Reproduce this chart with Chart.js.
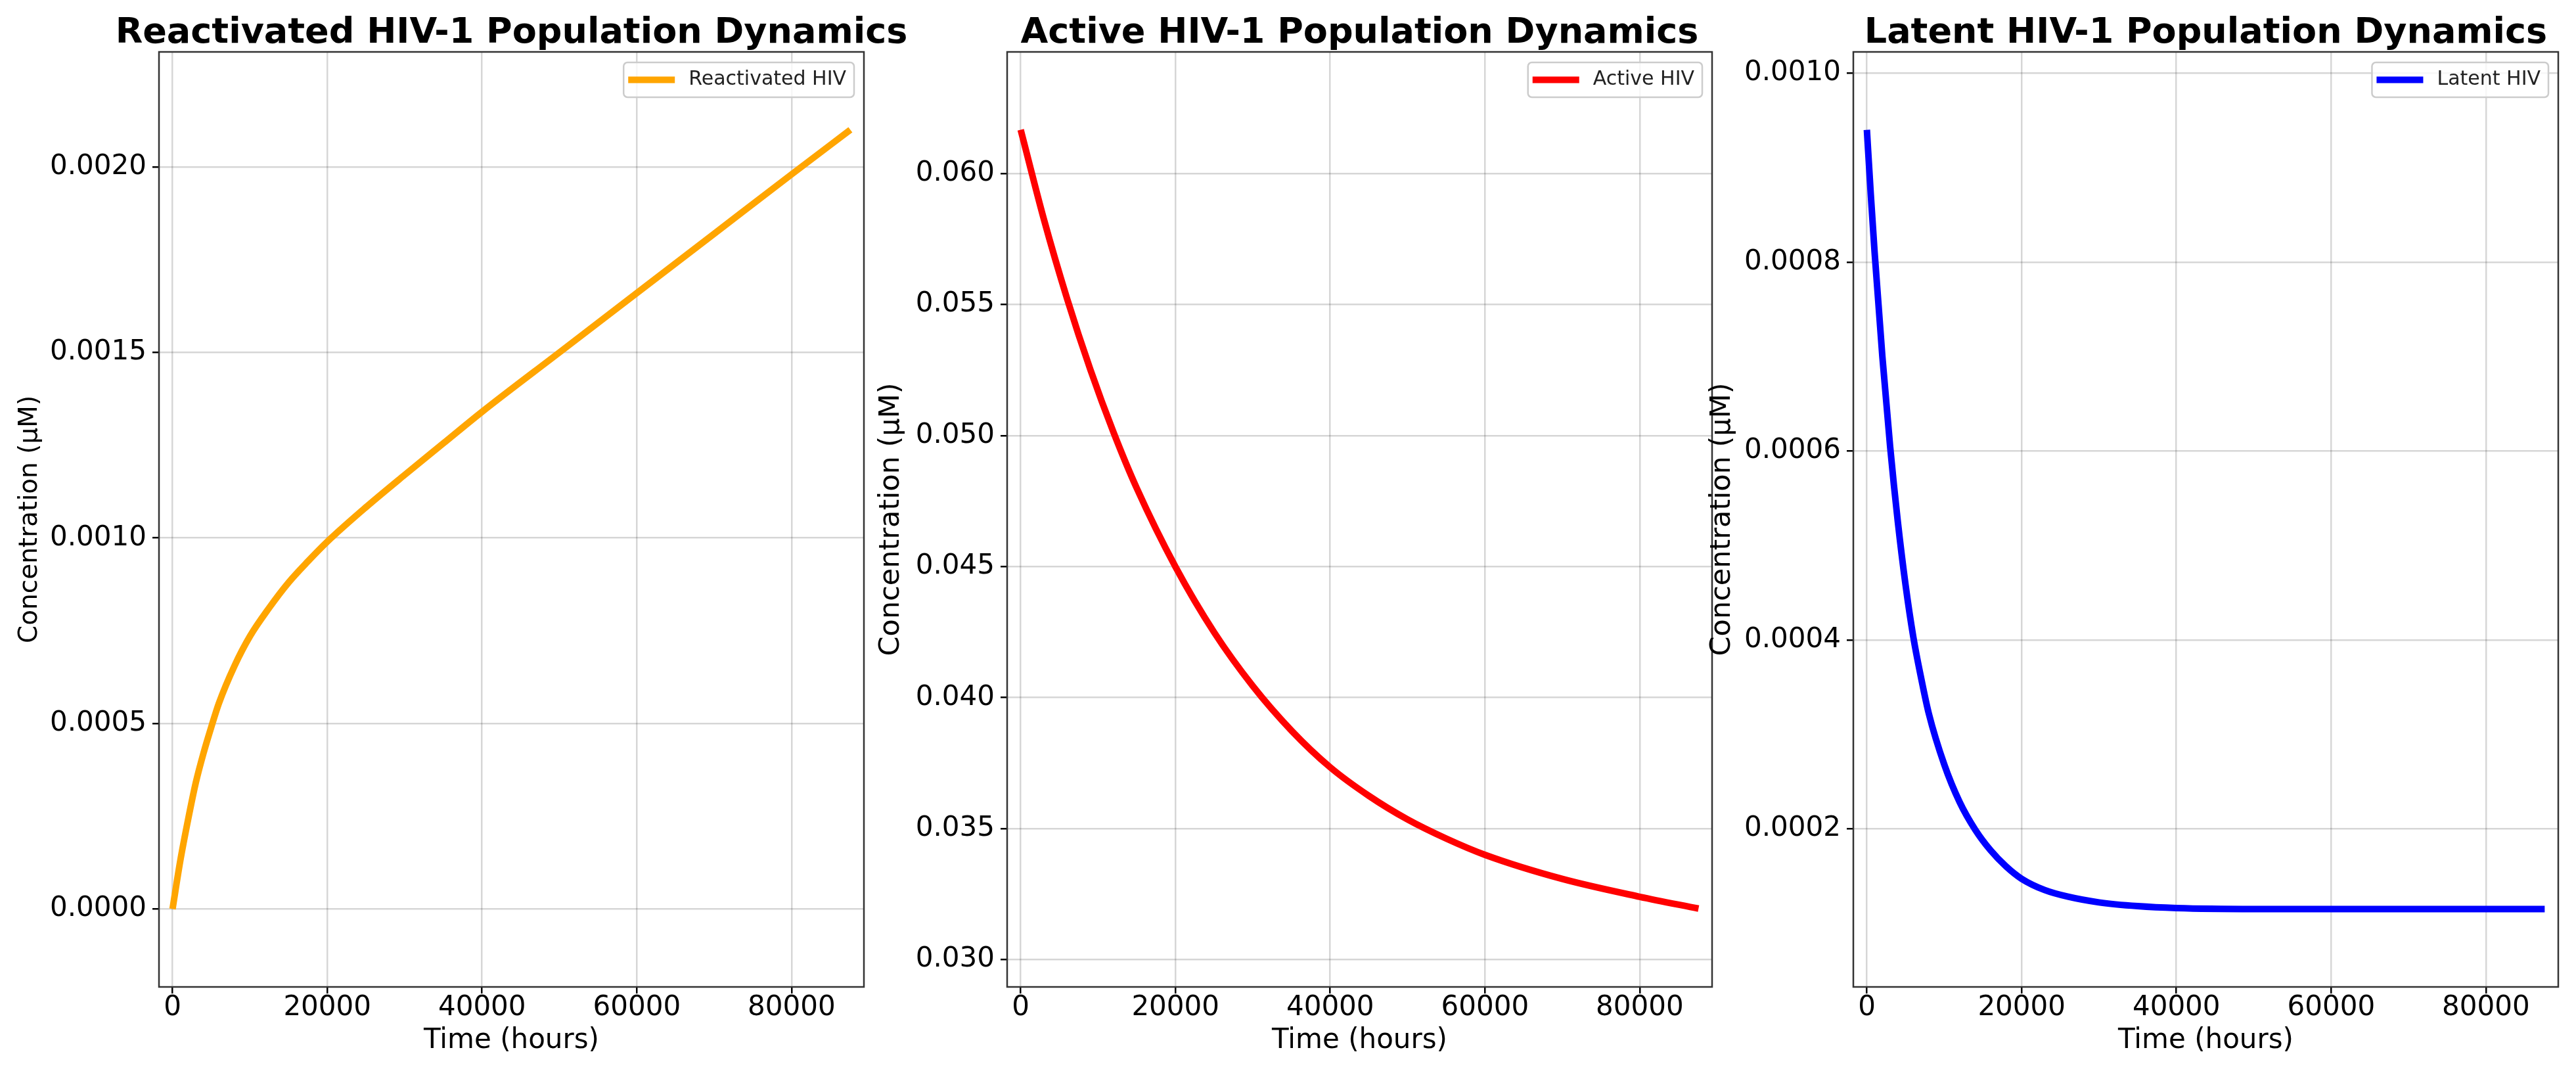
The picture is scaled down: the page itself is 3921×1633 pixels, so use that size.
<!DOCTYPE html>
<html>
<head>
<meta charset="utf-8">
<title>HIV-1 Population Dynamics</title>
<script src="https://cdn.jsdelivr.net/npm/chart.js@4.4.1/dist/chart.umd.min.js"></script>
<style>
  html, body { margin: 0; padding: 0; background: #fff; }
  #wrap { position: relative; width: 3921px; height: 1633px; }
  #wrap canvas { position: absolute; left: 0; top: 0; }
</style>
</head>
<body>
<div id="wrap">
  <canvas id="reactivado" width="3921" height="1633"></canvas>
  <canvas id="activo" width="3921" height="1633"></canvas>
  <canvas id="latente" width="3921" height="1633"></canvas>
</div>
<script>
// valores (horas, uM)
const timeTicks = [0, 20000, 40000, 60000, 80000];

const reactTime = [0, 1000, 2000, 3000, 4000, 5000, 6000, 8000, 10000, 12500, 15000, 17500, 20000,
  25000, 30000, 35000, 40000, 50000, 60000, 70000, 80000, 87600];
const reactValues = [0, 0.00013, 0.00024, 0.00034, 0.00042, 0.00049, 0.000555, 0.000655, 0.000735, 0.000812,
  0.00088, 0.000937, 0.00099, 0.001083, 0.00117, 0.001255, 0.00134, 0.00150, 0.00166, 0.00182, 0.00198, 0.00210];
const reactTicks = [0, 0.0005, 0.0010, 0.0015, 0.0020];

const activeTime = [0, 3000, 6000, 9000, 12000, 15000, 20000, 25000, 30000, 35000, 40000, 45000,
  50000, 55000, 60000, 70000, 80000, 87600];
const activeValues = [0.06167, 0.05825, 0.05522, 0.05252, 0.05012, 0.04799, 0.04499, 0.04249, 0.04044,
  0.03874, 0.03734, 0.03625, 0.03535, 0.03462, 0.03400, 0.03308, 0.03240, 0.03195];
const activeTicks = [0.030, 0.035, 0.040, 0.045, 0.050, 0.055, 0.060];

const latentTime = [0, 500, 1000, 2000, 3000, 4000, 5000, 6000, 7000, 8000, 10000, 12000, 14000, 16000,
  18000, 20000, 23000, 26000, 30000, 35000, 40000, 50000, 60000, 70000, 80000, 87600];
const latentValues = [0.000940, 0.000872, 0.000810, 0.000700, 0.000605, 0.000525, 0.000458, 0.000403,
  0.000360, 0.000322, 0.000268, 0.000228, 0.000199, 0.000177, 0.000160, 0.000147, 0.000135, 0.000128,
  0.000122, 0.000118, 0.000116, 0.000115, 0.000115, 0.000115, 0.000115, 0.000115];
const latentTicks = [0.0002, 0.0004, 0.0006, 0.0008, 0.0010];

Chart.defaults.font.family = '"DejaVu Sans", sans-serif';
Chart.defaults.color = '#000';

const FONT = '"DejaVu Sans", sans-serif';

// marco completo alrededor del area del grafico (como los "spines")
const marco = {
  id: 'marco',
  afterDatasetsDraw(chart) {
    const a = chart.chartArea, ctx = chart.ctx;
    ctx.save();
    ctx.strokeStyle = '#333';
    ctx.lineWidth = 2.5;
    ctx.strokeRect(a.left, a.top, a.right - a.left, a.bottom - a.top);
    ctx.restore();
  }
};

// titulo centrado sobre el area del grafico
const titulo = {
  id: 'titulo',
  afterDraw(chart, args, opts) {
    const a = chart.chartArea, ctx = chart.ctx;
    ctx.save();
    ctx.font = 'bold 54px ' + FONT;
    ctx.fillStyle = '#000';
    ctx.textAlign = 'center';
    ctx.textBaseline = 'alphabetic';
    ctx.fillText(opts.text, (a.left + a.right) / 2, a.top - 14);
    ctx.restore();
  }
};

// leyenda arriba a la derecha dentro del area
const leyenda = {
  id: 'leyenda',
  afterDatasetsDraw(chart) {
    const a = chart.chartArea, ctx = chart.ctx;
    const ds = chart.data.datasets[0];
    ctx.save();
    ctx.font = '30px ' + FONT;
    const tw = ctx.measureText(ds.label).width;
    const w = 7 + 71 + 21 + tw + 12, h = 53;
    const x0 = a.right - 15 - w, y0 = a.top + 16;
    ctx.beginPath();
    ctx.roundRect(x0, y0, w, h, 6);
    ctx.fillStyle = 'rgba(255,255,255,0.8)';
    ctx.fill();
    ctx.strokeStyle = '#cccccc';
    ctx.lineWidth = 2.5;
    ctx.stroke();
    ctx.beginPath();
    ctx.moveTo(x0 + 7, y0 + h / 2);
    ctx.lineTo(x0 + 78, y0 + h / 2);
    ctx.strokeStyle = ds.borderColor;
    ctx.lineWidth = 10;
    ctx.stroke();
    ctx.fillStyle = '#222';
    ctx.textAlign = 'left';
    ctx.textBaseline = 'middle';
    ctx.fillText(ds.label, x0 + 99, y0 + h / 2);
    ctx.restore();
  }
};

const puntos = (xs, ys) => xs.map((t, i) => ({ x: t, y: ys[i] }));

const crearPanel = (id, p) => {
  return new Chart(document.getElementById(id), {
    type: 'line',
    data: {
      datasets: [{
        label: p.label,
        data: puntos(p.time, p.values),
        borderColor: p.color,
        backgroundColor: p.color,
        borderWidth: 10,
        pointRadius: 0,
        fill: false,
        cubicInterpolationMode: 'monotone'
      }]
    },
    options: {
      responsive: false,
      animation: false,
      devicePixelRatio: 1,
      layout: { padding: { left: p.scaleLeft, right: 3921 - p.plotRight, top: 79, bottom: 27.5 } },
      plugins: {
        legend: { display: false },
        tooltip: { enabled: false },
        titulo: { text: p.title }
      },
      scales: {
        x: {
          type: 'linear',
          min: -1752,
          max: 89352,
          afterBuildTicks: s => { s.ticks = timeTicks.map(v => ({ value: v })); },
          afterFit: s => { s.height = 103.5; },
          ticks: {
            autoSkip: false, maxRotation: 0, padding: 1,
            font: { size: 42, lineHeight: 1 },
            color: '#000',
            callback: v => String(v)
          },
          grid: { color: 'rgba(0,0,0,0.16)', lineWidth: 2.5, tickLength: 10, tickColor: '#000', tickWidth: 2.5 },
          border: { display: false },
          title: { display: true, text: 'Time (hours)', font: { size: 42, lineHeight: 1 }, padding: 0, color: '#000' }
        },
        y: {
          type: 'linear',
          min: p.yMin,
          max: p.yMax,
          afterBuildTicks: s => { s.ticks = p.ticks.map(v => ({ value: v })); },
          afterFit: s => { s.width = p.plotLeft - p.scaleLeft; },
          ticks: {
            autoSkip: false, padding: 9,
            font: { size: 42, lineHeight: 1 },
            color: '#000',
            callback: v => v.toFixed(p.decimals)
          },
          grid: { color: 'rgba(0,0,0,0.16)', lineWidth: 2.5, tickLength: 10, tickColor: '#000', tickWidth: 2.5 },
          border: { display: false },
          title: { display: true, text: 'Concentration (μM)', font: { size: p.labelSize, lineHeight: 1 }, padding: 0, color: '#000' }
        }
      }
    },
    plugins: [marco, titulo, leyenda]
  });
};

crearPanel('reactivado', {
  title: 'Reactivated HIV-1 Population Dynamics', label: 'Reactivated HIV', color: '#FFA500',
  time: reactTime, values: reactValues, ticks: reactTicks, decimals: 4,
  yMin: -0.00021, yMax: 0.00231, scaleLeft: 26, plotLeft: 242, plotRight: 1315, labelSize: 39
});

crearPanel('activo', {
  title: 'Active HIV-1 Population Dynamics', label: 'Active HIV', color: '#FF0000',
  time: activeTime, values: activeValues, ticks: activeTicks, decimals: 3,
  yMin: 0.02896, yMax: 0.06464, scaleLeft: 1335.5, plotLeft: 1533, plotRight: 2606, labelSize: 43
});

crearPanel('latente', {
  title: 'Latent HIV-1 Population Dynamics', label: 'Latent HIV', color: '#0000FF',
  time: latentTime, values: latentValues, ticks: latentTicks, decimals: 4,
  yMin: 0.0000325, yMax: 0.0010225, scaleLeft: 2600.5, plotLeft: 2821, plotRight: 3894, labelSize: 43
});
</script>
</body>
</html>
